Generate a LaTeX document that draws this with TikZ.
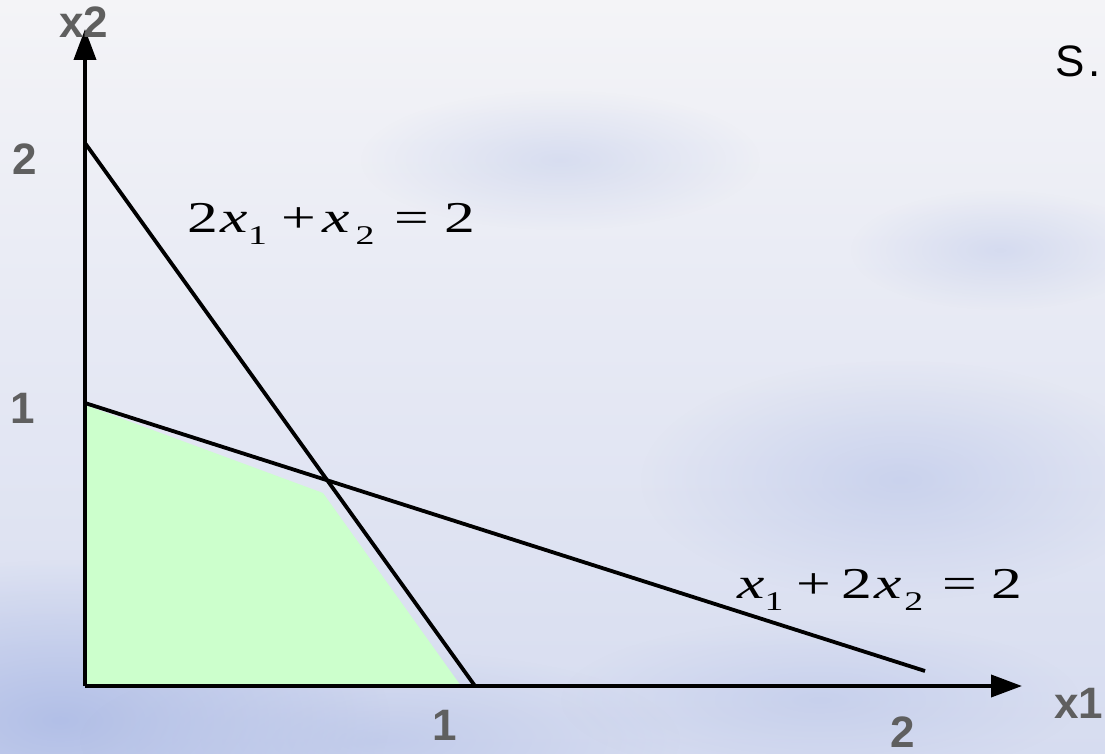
\documentclass[tikz,border=0pt]{standalone}
\usepackage{fontspec}
\setmainfont{Liberation Sans}
\newfontfamily\eqf{Liberation Serif}
\usetikzlibrary{arrows.meta,fadings}
\tikzfading[name=softblob, inner color=transparent!0, outer color=transparent!100]
\newcommand\sbs[1]{\raisebox{-12pt}{\fontsize{27}{27}\selectfont #1}}
\definecolor{bgtop}{HTML}{F4F4F7}
\definecolor{bgbot}{HTML}{D6DCF0}
\definecolor{blob}{HTML}{AEBCE6}
\definecolor{feas}{HTML}{CCFFCC}
\definecolor{lbl}{HTML}{5F5F5F}
\tikzset{
  axisline/.style={line width=3.8pt, -{Triangle[length=31pt,width=22pt]}},
  conline/.style={line width=3.8pt},
  axlbl/.style={text=lbl, font=\bfseries\fontsize{44}{44}\selectfont, inner sep=0pt},
  eqlbl/.style={anchor=base west, inner sep=0pt, font=\eqf\fontsize{44}{44}\selectfont},
  bgblob/.style={fill=blob, path fading=softblob},
}
\begin{document}
\begin{tikzpicture}[x=1pt,y=-1pt]
\path[use as bounding box] (0,0) rectangle (1105,754);
\begin{scope}
\clip (0,0) rectangle (1105,754);
\fill[top color=bgtop, bottom color=bgbot] (0,0) rectangle (1105,754);
\fill[bgblob, opacity=0.9] (60,720) ellipse[x radius=330, y radius=160];
\fill[bgblob, opacity=0.5] (380,740) ellipse[x radius=300, y radius=90];
\fill[bgblob, opacity=0.45] (900,480) ellipse[x radius=260, y radius=120];
\fill[bgblob, opacity=0.35] (560,160) ellipse[x radius=200, y radius=70];
\fill[bgblob, opacity=0.35] (1000,250) ellipse[x radius=150, y radius=60];
\fill[bgblob, opacity=0.4] (820,700) ellipse[x radius=260, y radius=80];
\end{scope}
% coordinates
\coordinate (O) at (85,686);
\coordinate (ytip) at (85,29);
\coordinate (xtip) at (1022,686);
\coordinate (A) at (85,143);
\coordinate (B) at (475,686);
\coordinate (C) at (85,403);
\coordinate (D) at (925,671);
% feasible region
\fill[feas] (85,405) -- (323,493) -- (461,686) -- (85,686) -- cycle;
% constraint lines
\draw[conline] (A) -- (B);
\draw[conline] (C) -- (D);
% axes
\draw[axisline] (O) -- (ytip);
\draw[axisline] (O) -- (xtip);
% axis labels
\node[axlbl, anchor=base] (lx2) at (84,38) {x2};
\node[axlbl, anchor=base west] (lx1) at (1054,718) {x1};
\node[axlbl, anchor=base] (y2) at (25,175) {2};
\node[axlbl, anchor=base] (y1) at (23,423) {1};
\node[axlbl, anchor=base] (x1t) at (445,740) {1};
\node[axlbl, anchor=base] (x2t) at (903,747) {2};
\node[anchor=base west, inner sep=0pt, font=\fontsize{44}{44}\selectfont] (s) at (1055,77) {S\hspace{4pt}.};
% equations
\node[eqlbl] (eq1) at (187,233) {\scalebox{1.4}[1]{2\hspace{2pt}\textit{x}\sbs{1}\hspace{10pt}+\hspace{5pt}\textit{x}\hspace{4pt}\sbs{2}\hspace{14pt}=\hspace{11pt}2}};
\node[eqlbl] (eq2) at (737,598) {\scalebox{1.4}[1]{\textit{x}\hspace{0pt}\sbs{1}\hspace{9pt}+\hspace{8pt}2\hspace{1pt}\textit{x}\hspace{2pt}\sbs{2}\hspace{14pt}=\hspace{10pt}2}};
\end{tikzpicture}
\end{document}
